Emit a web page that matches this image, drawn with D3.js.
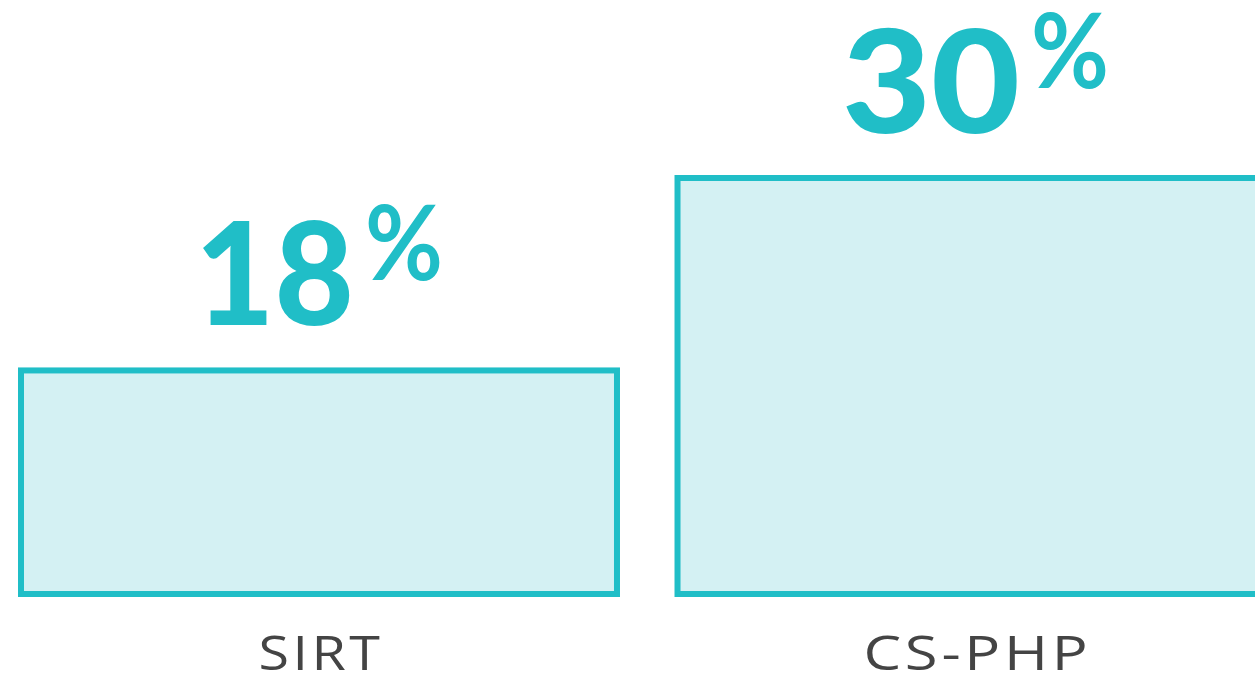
<!DOCTYPE html>
<html>
<head>
<meta charset="utf-8">
<script src="https://cdn.jsdelivr.net/npm/d3@7"></script>
<style>
html,body{margin:0;padding:0;background:#fff;}
svg{display:block;}
</style>
</head>
<body>
<svg id="chart" width="1255" height="684"></svg>
<script>
const categories = ["SIRT", "CS-PHP"];
const values = [18, 30];
const valueLabels = ["18", "30"];

const teal = "#20bec7", fillc = "#d4f1f3", grey = "#444444";

const svg = d3.select("#chart");

const x = d3.scaleBand().domain(categories).range([21, 1273.5]).paddingInner(0.0922).paddingOuter(0);
const y = d3.scaleLinear().domain([4.06, 30]).range([594, 178]);

svg.selectAll("rect.bar").data(categories).enter().append("rect")
  .attr("class","bar")
  .attr("x", d => x(d))
  .attr("width", x.bandwidth())
  .attr("y", (d,i) => y(values[i]))
  .attr("height", (d,i) => y.range()[0] - y(values[i]))
  .attr("fill", fillc)
  .attr("stroke", teal)
  .attr("stroke-width", 6);

// value labels
const numW = [159, 178];
const lbl = svg.selectAll("text.val").data(categories).enter().append("text")
  .attr("class","val")
  .attr("font-family","Lato, 'Open Sans', sans-serif")
  .attr("font-weight", 900)
  .attr("fill", teal);

lbl.each(function(d,i){
  const g = d3.select(this);
  const cx = x(d) + x.bandwidth()/2;
  const base = y(values[i]) - 45;
  const total = numW[i] + 11 + 78;
  const left = cx - total/2;
  g.append("tspan")
    .attr("x", left).attr("y", base)
    .attr("font-size", 143)
    .attr("textLength", numW[i])
    .attr("lengthAdjust","spacingAndGlyphs")
    .text(valueLabels[i]);
  g.append("tspan")
    .attr("x", left + numW[i] + 11).attr("y", base - 45)
    .attr("font-size", 104)
    .attr("font-weight", 700)
    .attr("textLength", 78)
    .attr("lengthAdjust","spacingAndGlyphs")
    .text("%");
});

// category labels
const catW = [125, 228];
svg.selectAll("text.cat").data(categories).enter().append("text")
  .attr("class","cat")
  .attr("x", d => x(d) + x.bandwidth()/2 + 2)
  .attr("y", 670)
  .attr("text-anchor","middle")
  .attr("font-family","'Open Sans', sans-serif")
  .attr("font-size", 48)
  .attr("letter-spacing", 3)
  .attr("fill", grey)
  .attr("textLength", (d,i) => catW[i])
  .attr("lengthAdjust","spacingAndGlyphs")
  .text(d => d);
</script>
</body>
</html>
